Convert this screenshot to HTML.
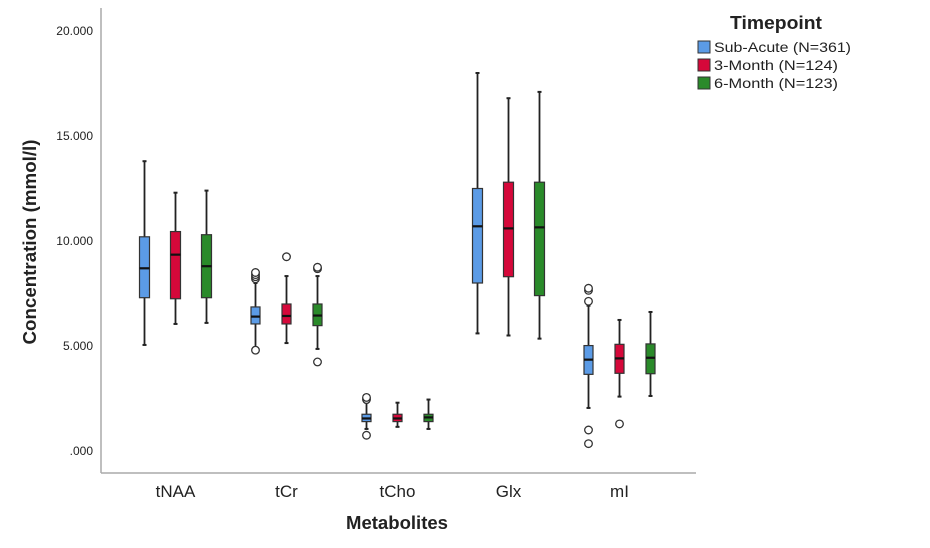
<!DOCTYPE html>
<html><head><meta charset="utf-8"><style>
body{margin:0;background:#fff;font-family:"Liberation Sans","DejaVu Sans",sans-serif}
svg{display:block}
</style></head><body>
<svg id="chart" width="930" height="548" viewBox="0 0 930 548" xmlns="http://www.w3.org/2000/svg">
<g id="axes"></g>
<g id="boxes"></g>
<text transform="translate(36,242) rotate(-90)" text-anchor="middle" font-size="18" font-weight="bold" fill="#222" textLength="205" lengthAdjust="spacingAndGlyphs">Concentration (mmol/l)</text>
<text x="397" y="529" text-anchor="middle" font-size="18" font-weight="bold" fill="#222" textLength="102" lengthAdjust="spacingAndGlyphs">Metabolites</text>
<g>
<text x="776" y="29" text-anchor="middle" font-size="18" font-weight="bold" fill="#222" textLength="92" lengthAdjust="spacingAndGlyphs">Timepoint</text>
<rect x="698" y="41" width="12" height="12" fill="#5b9be6" stroke="#333" stroke-width="1"/>
<text x="714" y="52" font-size="13.5" fill="#222" textLength="137" lengthAdjust="spacingAndGlyphs">Sub-Acute (N=361)</text>
<rect x="698" y="59" width="12" height="12" fill="#d5083a" stroke="#333" stroke-width="1"/>
<text x="714" y="70" font-size="13.5" fill="#222" textLength="124" lengthAdjust="spacingAndGlyphs">3-Month (N=124)</text>
<rect x="698" y="77" width="12" height="12" fill="#2a8a2a" stroke="#333" stroke-width="1"/>
<text x="714" y="88" font-size="13.5" fill="#222" textLength="124" lengthAdjust="spacingAndGlyphs">6-Month (N=123)</text>
</g>
</svg>
<script>
const categories=["tNAA","tCr","tCho","Glx","mI"];
const seriesNames=["Sub-Acute","3-Month","6-Month"];
const yTicks=[0,5,10,15,20];
const yTickLabels=[".000","5.000","10.000","15.000","20.000"];
// each entry: [low, q1, median, q3, high]
const subAcute=[[5.05,7.3,8.7,10.2,13.8],[4.95,6.05,6.4,6.86,8.0],[1.05,1.4,1.55,1.75,2.3],[5.6,8.0,10.7,12.5,18.0],[2.05,3.65,4.35,5.02,6.92]];
const month3=[[6.05,7.25,9.35,10.45,12.3],[5.14,6.05,6.43,7.0,8.33],[1.15,1.4,1.55,1.75,2.3],[5.5,8.3,10.6,12.8,16.8],[2.59,3.7,4.41,5.08,6.24]];
const month6=[[6.1,7.3,8.8,10.3,12.4],[4.86,5.97,6.45,7.0,8.33],[1.05,1.4,1.6,1.75,2.45],[5.35,7.4,10.65,12.8,17.1],[2.62,3.68,4.44,5.1,6.62]];
const outSubAcute=[[],[4.8,8.2,8.3,8.4,8.5],[0.75,2.45,2.55],[],[0.35,1.0,7.13,7.65,7.75]];
const outMonth3=[[],[9.25],[],[],[1.29]];
const outMonth6=[[],[4.24,8.68,8.75],[],[],[]];
const colors=["#5b9be6","#d5083a","#2a8a2a"];
const NS="http://www.w3.org/2000/svg";
const y=v=>451-21*v;
const cx=(c,s)=>175.5+111*c+(s-1)*31;
function mk(tag,attrs,parent){const e=document.createElementNS(NS,tag);for(const k in attrs)e.setAttribute(k,attrs[k]);parent.appendChild(e);return e;}
const axes=document.getElementById('axes');
let a=mk('line',{x1:101,y1:8,x2:101,y2:473,stroke:'#aaa','stroke-width':1.5},axes);


a=mk('line',{x1:101,y1:473,x2:696,y2:473,stroke:'#aaa','stroke-width':1.5},axes);


yTicks.forEach((t,i)=>{const e=mk('text',{x:93,y:y(t)+4,'text-anchor':'end','font-size':12,fill:'#222'},axes);e.textContent=yTickLabels[i];

});
categories.forEach((c,i)=>{const e=mk('text',{x:cx(i,1),y:497,'text-anchor':'middle','font-size':17,fill:'#222'},axes);e.textContent=c;

});
const boxes=document.getElementById('boxes');
[subAcute,month3,month6].forEach((ser,s)=>{
 const outs=[outSubAcute,outMonth3,outMonth6][s];
 ser.forEach((d,c)=>{
  const x=cx(c,s),w=c===0||c===3?10:9;
  const g=mk('g',{},boxes);
  
  
  mk('line',{x1:x,y1:y(d[4]),x2:x,y2:y(d[0]),stroke:'#222','stroke-width':1.8},g);
  mk('line',{x1:x-2,y1:y(d[4]),x2:x+2,y2:y(d[4]),stroke:'#222','stroke-width':2},g);
  mk('line',{x1:x-2,y1:y(d[0]),x2:x+2,y2:y(d[0]),stroke:'#222','stroke-width':2},g);
  mk('rect',{x:x-w/2,y:y(d[3]),width:w,height:y(d[1])-y(d[3]),fill:colors[s],stroke:'#333','stroke-width':1.2},g);
  mk('line',{x1:x-w/2,y1:y(d[2]),x2:x+w/2,y2:y(d[2]),stroke:'#111','stroke-width':2.2},g);
  outs[c].forEach(o=>{const p=mk('circle',{cx:x,cy:y(o),r:3.8,fill:'#fff',stroke:'#333','stroke-width':1.3},g);
   
   });
 });
});
</script>
</body></html>
